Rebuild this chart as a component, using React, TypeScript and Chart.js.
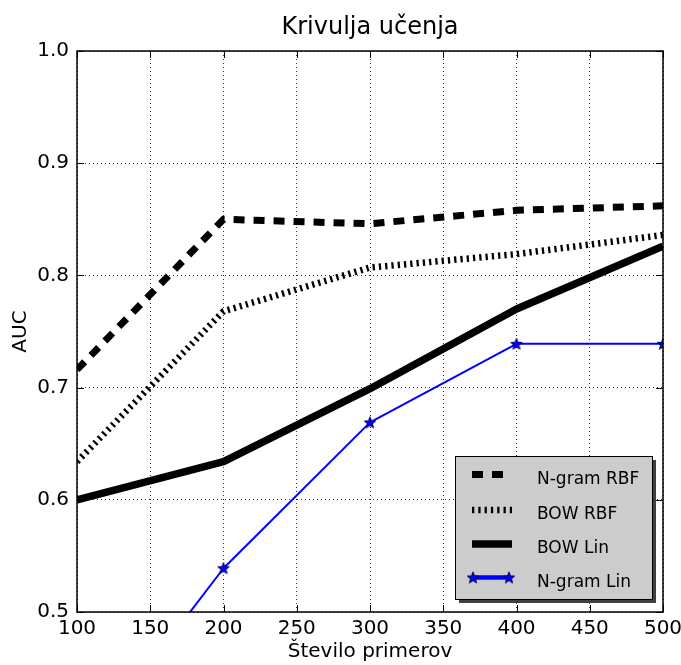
import React, { useEffect, useRef } from 'react';
import { Chart, registerables } from 'chart.js';

Chart.register(...registerables);

// ---- data ----
const xValues = [100, 200, 300, 400, 500];
const ngramRbf = [0.716, 0.85, 0.846, 0.858, 0.862];
const bowRbf = [0.634, 0.768, 0.807, 0.819, 0.836];
const bowLin = [0.6, 0.634, 0.699, 0.77, 0.826];
const ngramLin = [0.368, 0.539, 0.669, 0.739, 0.739];
const seriesLabels = ['N-gram RBF', 'BOW RBF', 'BOW Lin', 'N-gram Lin'];
const xTickValues = [100, 150, 200, 250, 300, 350, 400, 450, 500];
const yTickValues = [0.5, 0.6, 0.7, 0.8, 0.9, 1.0];
const titleText = 'Krivulja učenja';
const xTitle = 'Število primerov';
const yTitle = 'AUC';

const FONT = '"DejaVu Sans", sans-serif';

function makeStar(): HTMLCanvasElement {
  const c = document.createElement('canvas');
  c.width = 14;
  c.height = 14;
  const g = c.getContext('2d')!;
  const cx = 7, cy = 7.5, ro = 6, ri = 2.6;
  g.beginPath();
  for (let i = 0; i < 10; i++) {
    const r = i % 2 === 0 ? ro : ri;
    const a = -Math.PI / 2 + (i * Math.PI) / 5;
    const px = cx + r * Math.cos(a);
    const py = cy + r * Math.sin(a);
    if (i === 0) g.moveTo(px, py);
    else g.lineTo(px, py);
  }
  g.closePath();
  g.fillStyle = '#0000ff';
  g.fill();
  g.lineWidth = 1;
  g.strokeStyle = '#000060';
  g.stroke();
  return c;
}

const toPoints = (ys: number[]) => xValues.map((x, i) => ({ x, y: ys[i] }));

export default function App() {
  const ref = useRef<HTMLCanvasElement>(null);

  useEffect(() => {
    if (!ref.current) return;
    const star = makeStar();

    const styles = [
      { color: '#000', width: 7, dash: [11, 9] },
      { color: '#000', width: 6.5, dash: [2.3, 4] },
      { color: '#000', width: 7.5, dash: [] as number[] },
      { color: '#0000ff', width: 2, dash: [] as number[] },
    ];

    const framePlugin = {
      id: 'frame',
      afterDatasetsDraw(chart: any) {
        const { ctx, chartArea: a, scales } = chart;
        ctx.save();
        ctx.strokeStyle = '#000';
        ctx.lineWidth = 1;
        ctx.setLineDash([]);
        // ticks (inward)
        const tl = 7;
        ctx.beginPath();
        xTickValues.forEach((v) => {
          const px = Math.round(scales.x.getPixelForValue(v)) + 0.5;
          ctx.moveTo(px, a.bottom);
          ctx.lineTo(px, a.bottom - tl);
          ctx.moveTo(px, a.top);
          ctx.lineTo(px, a.top + tl);
        });
        yTickValues.forEach((v) => {
          const py = Math.round(scales.y.getPixelForValue(v)) + 0.5;
          ctx.moveTo(a.left, py);
          ctx.lineTo(a.left + tl, py);
          ctx.moveTo(a.right, py);
          ctx.lineTo(a.right - tl, py);
        });
        ctx.stroke();
        ctx.lineWidth = 1.5;
        ctx.strokeRect(a.left, a.top, a.right - a.left, a.bottom - a.top);
        // title
        ctx.fillStyle = '#000';
        ctx.font = `24px ${FONT}`;
        ctx.textAlign = 'center';
        ctx.textBaseline = 'middle';
        ctx.fillText(titleText, (a.left + a.right) / 2, 28);

        // legend
        const bx = 455, by = 456, bw = 197, bh = 143;
        ctx.fillStyle = 'rgba(0,0,0,0.75)';
        ctx.fillRect(bx + 4, by + 4, bw, bh);
        ctx.fillStyle = '#cccccc';
        ctx.fillRect(bx, by, bw, bh);
        ctx.lineWidth = 1;
        ctx.strokeStyle = '#000';
        ctx.strokeRect(bx + 0.5, by + 0.5, bw, bh);
        const rowsY = [474.5, 510, 544, 577.5];
        ctx.font = `17px ${FONT}`;
        ctx.textAlign = 'left';
        ctx.textBaseline = 'alphabetic';
        seriesLabels.forEach((lab, i) => {
          const y = rowsY[i];
          const st = styles[i];
          ctx.save();
          ctx.strokeStyle = st.color;
          ctx.lineWidth = i === 3 ? 4.5 : st.width;
          ctx.setLineDash(st.dash);
          ctx.lineCap = 'butt';
          ctx.beginPath();
          if (i === 3) {
            ctx.moveTo(473, y);
            ctx.lineTo(509, y);
          } else {
            ctx.moveTo(472, y);
            ctx.lineTo(512, y);
          }
          ctx.stroke();
          if (i === 3) {
            ctx.drawImage(star, 473 - 7, y - 7);
            ctx.drawImage(star, 509 - 7, y - 7);
          }
          ctx.restore();
          ctx.fillStyle = '#000';
          ctx.fillText(lab, 537, y + 9);
        });
        ctx.restore();
      },
    };

    const allSeries = [ngramRbf, bowRbf, bowLin, ngramLin];

    const chart = new Chart(ref.current, {
      type: 'line',
      data: {
        datasets: allSeries.map((ys, i) => ({
          label: seriesLabels[i],
          data: toPoints(ys),
          borderColor: styles[i].color,
          backgroundColor: styles[i].color,
          borderWidth: styles[i].width,
          borderDash: styles[i].dash,
          borderCapStyle: 'butt' as const,
          borderJoinStyle: 'round' as const,
          pointRadius: i === 3 ? 7 : 0,
          pointHoverRadius: i === 3 ? 7 : 0,
          pointStyle: i === 3 ? (star as any) : 'circle',
          tension: 0,
          fill: false,
          clip: 0,
          order: 3 - i,
        })),
      },
      options: {
        responsive: false,
        animation: false,
        devicePixelRatio: 1,
        layout: { padding: { top: 51, right: 18, left: 0, bottom: 0 } },
        plugins: {
          legend: { display: false },
          tooltip: { enabled: false },
          title: { display: false },
        },
        scales: {
          x: {
            type: 'linear',
            min: 100,
            max: 500,
            afterBuildTicks: (scale: any) => {
              scale.ticks = xTickValues.map((v) => ({ value: v }));
            },
            afterFit: (scale: any) => {
              scale.height = 53;
              scale.paddingLeft = 0;
              scale.paddingRight = 0;
            },
            ticks: {
              color: '#000',
              font: { family: FONT, size: 20 },
              padding: 5,
              maxRotation: 0,
              autoSkip: false,
              callback: (v: any) => String(v),
            },
            grid: {
              color: 'rgba(0,0,0,0.8)',
              lineWidth: 1,
              drawTicks: false,
            },
            border: { display: false, dash: [1, 3] },
            title: {
              display: true,
              text: xTitle,
              color: '#000',
              font: { family: FONT, size: 20 },
              padding: { top: 0, bottom: 1 },
            },
          },
          y: {
            type: 'linear',
            min: 0.5,
            max: 1.0,
            afterBuildTicks: (scale: any) => {
              scale.ticks = yTickValues.map((v) => ({ value: v }));
            },
            afterFit: (scale: any) => {
              scale.width = 77;
              scale.paddingTop = 0;
              scale.paddingBottom = 0;
            },
            ticks: {
              color: '#000',
              font: { family: FONT, size: 20 },
              padding: 8,
              autoSkip: false,
              callback: (v: any) => Number(v).toFixed(1),
            },
            grid: {
              color: 'rgba(0,0,0,0.8)',
              lineWidth: 1,
              drawTicks: false,
            },
            border: { display: false, dash: [1, 3] },
            title: {
              display: true,
              text: yTitle,
              color: '#000',
              font: { family: FONT, size: 20 },
              padding: { top: 9, bottom: 0 },
            },
          },
        },
      } as any,
      plugins: [framePlugin],
    });

    return () => chart.destroy();
  }, []);

  return (
    <div style={{ position: 'fixed', left: 0, top: 0, width: 681, height: 665, background: '#fff' }}>
      <canvas ref={ref} width={681} height={665} style={{ width: 681, height: 665, display: 'block' }} />
    </div>
  );
}
